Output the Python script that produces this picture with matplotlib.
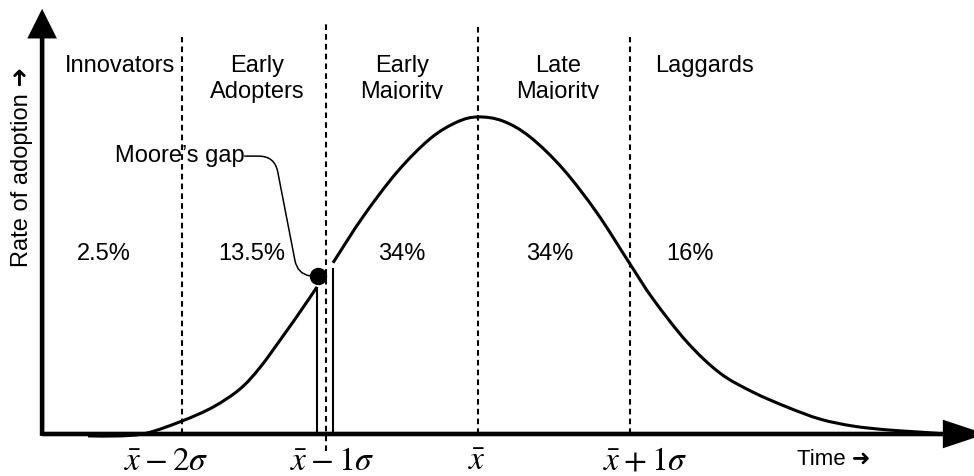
"""Curva de difusion de innovaciones (Rogers) con el hueco de Moore."""
import matplotlib
matplotlib.use("Agg")
import matplotlib.pyplot as plt
from matplotlib.path import Path
from matplotlib.patches import PathPatch, FancyArrowPatch
from matplotlib.transforms import Bbox, TransformedBbox

plt.rcParams["font.family"] = ["Liberation Sans", "DejaVu Sans"]
plt.rcParams["mathtext.fontset"] = "stix"

# curva de adopcion: x en sigmas respecto a la media, altura relativa al maximo
left_x = [-2.566, -2.355, -2.178, -1.947, -1.743, -1.566, -1.434, -1.283, -1.171, -1.059]
left_y = [-0.006, -0.006, 0.003, 0.041, 0.085, 0.142, 0.210, 0.309, 0.385, 0.464]
right_x = [-0.954, -0.757, -0.533, -0.316, -0.138, 0.0, 0.164, 0.342, 0.559, 0.783,
           1.0, 1.151, 1.375, 1.592, 1.809, 2.033, 2.25, 2.467, 2.691, 2.908, 3.072]
right_y = [0.540, 0.685, 0.826, 0.931, 0.984, 1.0, 0.987, 0.937, 0.836, 0.697,
           0.536, 0.426, 0.290, 0.192, 0.132, 0.085, 0.047, 0.025, 0.013, 0.006, 0.0]

segment_names = ["Innovators", "Early\nAdopters", "Early\nMajority", "Late\nMajority", "Laggards"]
segment_shares = ["2.5%", "13.5%", "34%", "34%", "16%"]
boundaries = [-1.947, -1.0, 0.0, 1.0]
boundary_labels = [r"$\bar{x}-2\sigma$", r"$\bar{x}-1\sigma$", r"$\bar{x}$", r"$\bar{x}+1\sigma$"]

# posiciones de los textos (x en sigmas)
name_x = [-2.355, -1.454, -0.5, 0.526, 1.487]
share_x = [-2.461, -1.487, -0.5, 0.474, 1.395]
tick_x = [-2.053, -0.96, -0.007, 1.099]
line_top = [1.252, 1.293, 1.293, 1.252]
line_bot = [0.0, -0.054, 0.0, 0.0]


def suave(xs, ys):
    """Trazo Catmull-Rom que pasa por los puntos dados."""
    verts = [(xs[0], ys[0])]
    codes = [Path.MOVETO]
    n = len(xs)
    for i in range(n - 1):
        a, b = max(i - 1, 0), min(i + 2, n - 1)
        c1 = (xs[i] + (xs[i + 1] - xs[a]) / 6, ys[i] + (ys[i + 1] - ys[a]) / 6)
        c2 = (xs[i + 1] - (xs[b] - xs[i]) / 6, ys[i + 1] - (ys[b] - ys[i]) / 6)
        verts += [c1, c2, (xs[i + 1], ys[i + 1])]
        codes += [Path.CURVE4] * 3
    return Path(verts, codes)


fig = plt.figure(figsize=(9.74, 4.77), dpi=100)
ax = fig.add_axes([0, 0, 1, 1])
ax.set_xlim(-3.145, 3.263)
ax.set_ylim(-0.1325, 1.372)
ax.set_axis_off()

# ejes con flecha
ax.add_patch(FancyArrowPatch((-2.868, -0.006), (-2.868, 1.341),
                             arrowstyle="-|>,head_length=16,head_width=8",
                             mutation_scale=1, lw=3.3, color="k", shrinkA=0, shrinkB=0,
                             joinstyle="miter", capstyle="butt", zorder=4))
ax.add_patch(FancyArrowPatch((-2.868, 0.0), (3.34, 0.0),
                             arrowstyle="-|>,head_length=24,head_width=8",
                             mutation_scale=1, lw=3.3, color="k", shrinkA=0, shrinkB=0,
                             joinstyle="miter", capstyle="butt", zorder=4))

# limites entre grupos
for x, t, b in zip(boundaries, line_top, line_bot):
    ax.plot([x, x], [b, t], color="k", lw=1.5, dashes=(2.7, 2.0), zorder=2)

# curva partida por el hueco
for xs, ys in [(left_x, left_y), (right_x, right_y)]:
    ax.add_patch(PathPatch(suave(xs, ys), fc="none", ec="k", lw=2.2, zorder=5))
ax.vlines([left_x[-1], right_x[0]], 0, [left_y[-1], right_y[0] - 0.015], color="k", lw=1.5, zorder=3)

dot = (left_x[-1] + 0.006, left_y[-1] + 0.034)
ax.plot(*dot, "o", color="k", ms=11.5, zorder=6)
ax.annotate("Moore’s gap", xy=dot, xytext=(-2.388, 0.861), ha="left", va="baseline", fontsize=17,
            arrowprops=dict(arrowstyle="-", lw=1.1, color="k", shrinkA=0, shrinkB=6, patchA=None,
                            relpos=(1.0, 0.45),
                            connectionstyle="arc,angleA=0,angleB=180,armA=30,armB=20,rad=16"))

# nombres de los grupos; "Majority" queda recortado por arriba de y=100 px
clip = TransformedBbox(Bbox([[0, 0.7904], [1, 1]]), fig.transFigure)
for name, x in zip(segment_names, name_x):
    lines = name.split("\n")
    ax.text(x, 1.145, lines[0], ha="center", va="baseline", fontsize=17)
    if len(lines) > 1:
        t = ax.text(x, 1.063, lines[1], ha="center", va="baseline", fontsize=17)
        if lines[1] == "Majority":
            t.set_clip_box(clip)
            t.set_clip_on(True)

for s, x in zip(segment_shares, share_x):
    ax.text(x, 0.552, s, ha="center", va="baseline", fontsize=17)

for lab, x in zip(boundary_labels, tick_x):
    ax.text(x, -0.110, lab, ha="center", va="baseline", fontsize=24)

ax.text(2.342, -0.095, "Time ➜", ha="center", va="baseline", fontsize=16)
ax.text(-3.0, 0.845, "Rate of adoption ➜", rotation=90, ha="center", va="center", fontsize=17)

fig.savefig("out.png", dpi=100, facecolor="white")
